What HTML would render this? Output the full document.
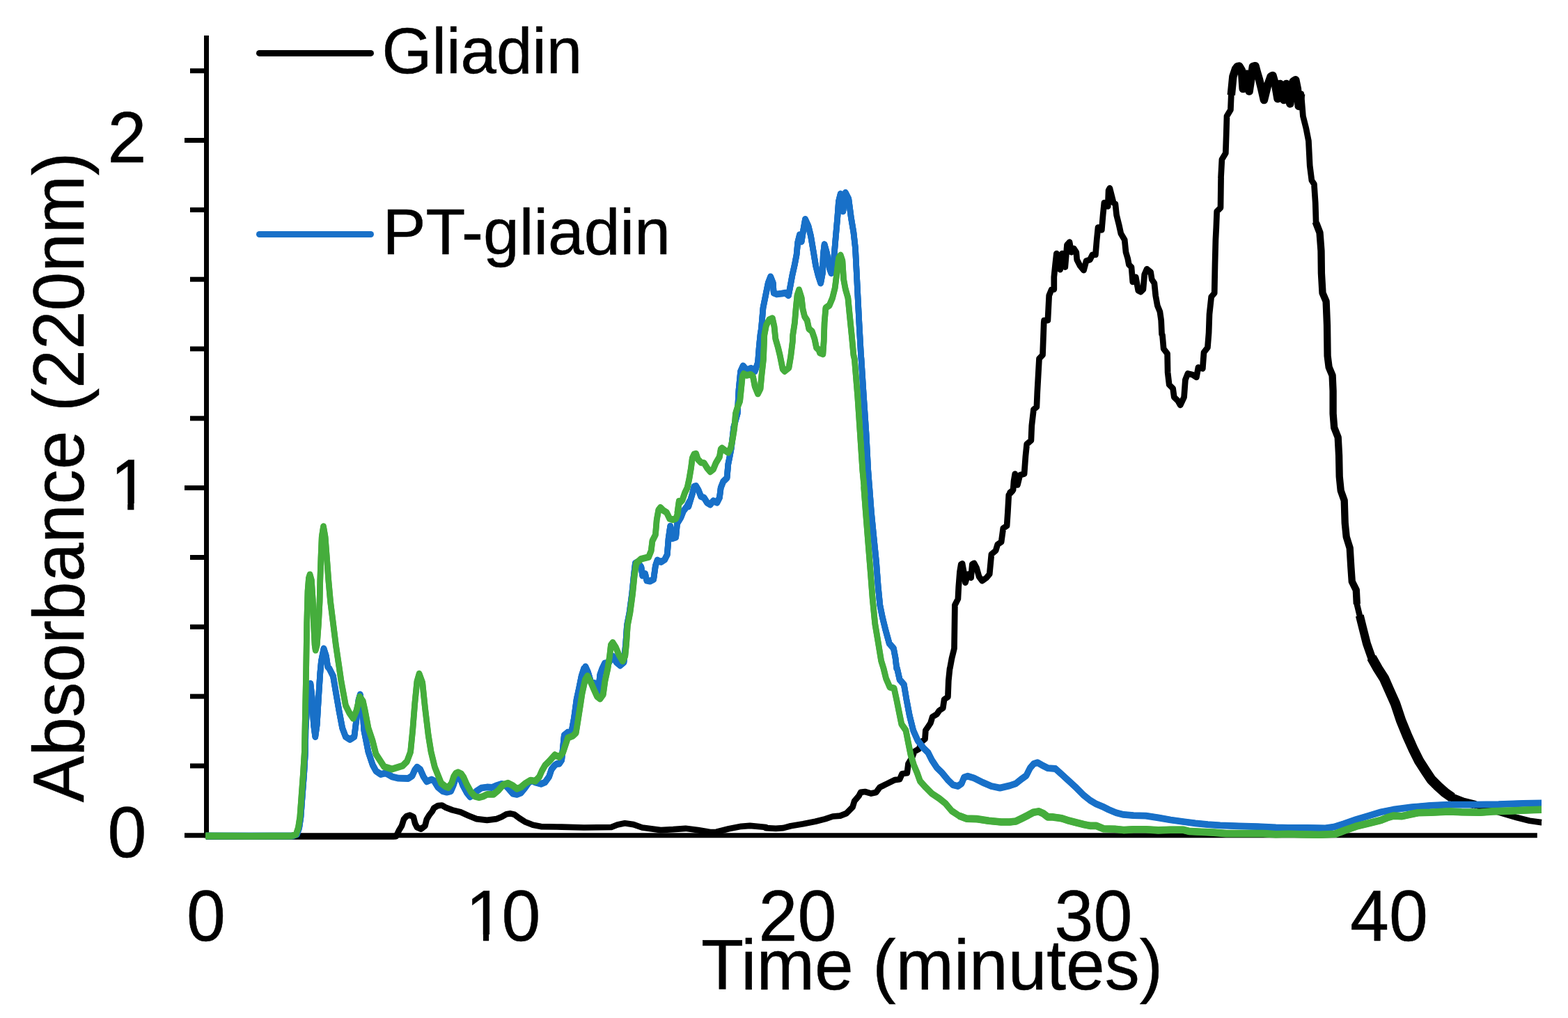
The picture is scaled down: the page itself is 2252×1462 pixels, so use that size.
<!DOCTYPE html>
<html><head><meta charset="utf-8"><title>Chromatogram</title>
<style>
html,body{margin:0;padding:0;background:#fff;}
body{width:2252px;height:1462px;overflow:hidden;}
svg{display:block;}
text{font-family:"Liberation Sans",Arial,Helvetica,sans-serif;fill:#000;stroke:#000;stroke-width:0.5px;}
</style></head><body>
<svg width="2252" height="1462" viewBox="0 0 2252 1462">
<rect width="2252" height="1462" fill="#fff"/>
<g stroke="#000" stroke-width="7" fill="none">
<line x1="296.5" y1="51" x2="296.5" y2="1203.25"/>
<line x1="265" y1="1199.75" x2="2207.8" y2="1199.75"/>
<line x1="273" y1="1099.93" x2="296.5" y2="1099.93"/>
<line x1="273" y1="1000.11" x2="296.5" y2="1000.11"/>
<line x1="273" y1="900.29" x2="296.5" y2="900.29"/>
<line x1="273" y1="800.47" x2="296.5" y2="800.47"/>
<line x1="265" y1="700.65" x2="296.5" y2="700.65"/>
<line x1="273" y1="600.83" x2="296.5" y2="600.83"/>
<line x1="273" y1="501.01" x2="296.5" y2="501.01"/>
<line x1="273" y1="401.19" x2="296.5" y2="401.19"/>
<line x1="273" y1="301.37" x2="296.5" y2="301.37"/>
<line x1="265" y1="201.55" x2="296.5" y2="201.55"/>
<line x1="273" y1="101.73" x2="296.5" y2="101.73"/>
</g>
<g fill="none" stroke-linejoin="round" stroke-linecap="butt">
<g stroke="#000" stroke-width="8.7">
<path d="M296,1201.3 L400,1201.3 L500,1201.3 L565,1201.3 L568.9,1201.2 L573.5,1191.7 L577,1186 L579.9,1176.7 L583.9,1172.1 L588.6,1170.6 L593.8,1173.2 L596.1,1182.5 L599,1188.3 L604.7,1190.6 L610.5,1186 L612.8,1176.7 L616.3,1170.9 L620.9,1165.1 L623.2,1160.5 L629,1157.1 L634.8,1156.5 L640.6,1159.9 L649.8,1163.4 L661.4,1166.3 L672.9,1171.5 L684.5,1176.1 L699.5,1177.9 L713.4,1176.1 L720.3,1173.2 L727.3,1169.2 L733.1,1168.4 L738.8,1169.8 L745.8,1175 L753.9,1180.2 L765.4,1184.8 L777,1187.1 L800,1187.5 L806.7,1187.7 L838.7,1188.5 L877.9,1188 L886.7,1184.5 L897.4,1182.3 L909.9,1184.1 L922.3,1188.5 L949,1192.1 L966.8,1191.2 L984.6,1189.8 L1002.4,1192.1 L1020.1,1195.1 L1029,1194.8 L1046.8,1190.3 L1064.6,1186.8 L1077.1,1185.9 L1100,1188 L1100,1189.1 L1114.2,1189.8 L1124.9,1189.1 L1135.6,1186.2 L1153.4,1183.2 L1171.1,1179.7 L1185.4,1176.1 L1196,1172.5 L1206.7,1171.6 L1215.6,1168.1 L1224.5,1159.2 L1227.2,1150.3 L1233.4,1143.2 L1236.1,1137.9 L1242.3,1137 L1251.2,1139.6 L1258.3,1137.9 L1263.6,1130.7 L1270.7,1127.2 L1277.9,1123.6 L1285,1120.1 L1292.1,1119.2 L1295.6,1111.2 L1302.8,1110.3 L1304.5,1096.9 L1309.9,1088.1 L1313.4,1079.2 L1319.7,1075.6 L1324.1,1064.9 L1328.5,1061.4 L1329.4,1048.9 L1333,1043.6 L1336.5,1038.3 L1339.2,1029.4 L1345.4,1025.8 L1349,1020.5 L1354.3,1016.9 L1356.1,1004.5 L1361.4,1000.9 L1362.3,977.8 L1364.1,960 L1364.3,960 L1367,945.4 L1370.5,931.2 L1370.9,904.5 L1371.4,869 L1375.9,860.1 L1376.8,842.3 L1378.5,820.9 L1380.3,810.3 L1382.1,809.4 L1384.8,824.5 L1386.5,836.9 L1390.1,824.5 L1394.6,829.8 L1396.3,810.3 L1399,808.8 L1402.6,815.6 L1406.1,828.1 L1410.6,834.3 L1416.8,829.8 L1421.2,824.5 L1423.9,796 L1430.1,790.7 L1432.8,781.8 L1438.1,778.3 L1440.8,758.7 L1446.1,755.1 L1447.4,735.6 L1448.8,710.7 L1454.1,705.3 L1450.7,707.2 L1455.1,703.7 L1456,691.2 L1457.8,680.5 L1461.4,696.5 L1464.9,682.3 L1471.1,680.5 L1472.9,655.6 L1474.7,637.9 L1480.9,632.5 L1481.8,611.2 L1484.5,588.1 L1488.9,584.5 L1489.8,563.2 L1491.1,540 L1492.5,515.1 L1497.5,509.8 L1498.7,477.8 L1499.2,463.6 L1499.6,460.1 L1504.9,460.1 L1505.8,442.3 L1506.7,424.5 L1510.3,415.6 L1513.8,415.6 L1513.8,397.9 L1515.6,380.1 L1517.4,364.1 L1522.7,387.2 L1525.4,364.1 L1529.8,383.6 L1532.5,351.6 L1536.1,347.7 L1538.7,362.3 L1542.3,356.9 L1545.8,362.3 L1546.7,373 L1551.2,381.8 L1556.5,388.1 L1560.1,374.7 L1565.4,373 L1569,365.8 L1573.4,365.8 L1575.2,344.5 L1577,326.7 L1582.3,330.3 L1584.1,308.9 L1585.9,291.1 L1591.2,296.5 L1592.1,273.4 L1593.9,270.2 L1596.5,280.5 L1599.2,291.1 L1601.9,292.9 L1603.6,308.9 L1607.2,323.2 L1609.9,335.6 L1615.2,344.5 L1617,362.3 L1619.7,371.2 L1621.4,380.1 L1625,383.6 L1626.8,405 L1631.2,397.9 L1634.8,417.4 L1638.3,419.2 L1641.9,415.6 L1643.7,394.3 L1647.2,386.3 L1652.6,390.7 L1654.3,401.4 L1657.9,406.7 L1659.7,424.5 L1662.3,438.8 L1665.9,447.7 L1667.7,460.1 L1668.6,480 L1669.5,481.3 L1671.2,500.9 L1676.6,508 L1677.1,534.7 L1679.2,552.5 L1684.6,557.8 L1686.3,570.3 L1691.7,575.6 L1695.2,581.8 L1700.6,570.3 L1702.4,545.4 L1705.9,536.5 L1713,538.3 L1718.4,541.8 L1721,527.6 L1727.3,529.4 L1729,506.2 L1734.4,499.1 L1736.1,477.8 L1736.7,460 L1737,451.2 L1739.7,426.3 L1744.2,421 L1745,380.1 L1745.9,344.5 L1746.8,326.7 L1747.7,303.6 L1753,298.3 L1753.6,255.6 L1753.5,255.6 L1754.9,229 L1760.3,220.1 L1761.2,193.4 L1762,166.7 L1767.4,157.8 L1768.3,136.5 L1770.9,109.8 L1774.5,99.1 L1777.2,95.6 L1779.8,95 L1783.4,100.9 L1785.2,127.6 L1790.5,106.2 L1794.1,131.1 L1799.4,95.6 L1803,94.7 L1805.6,104.5 L1808.3,113.4 L1811.8,127.6 L1815.4,143.6 L1820.7,122.2 L1825.2,109.8 L1827.9,108.4 L1831.4,120.5 L1835,141.8 L1838.5,120.5 L1843.9,143.6 L1847.4,120.5 L1852.8,148.9 L1857.2,116.9 L1860.8,114.8 L1863.4,127.6 L1865.2,152.5 L1868.8,134.7 L1871.4,166.7 L1875.9,184.5 L1879.4,202.3 L1881.2,237.9 L1883.9,259.2 L1887.4,264.5 L1889.2,291.2 L1890.1,320 L1890.1,320.1 L1895.5,334.2 L1897.5,360.3 L1897.9,392.5 L1899.5,420.7 L1904.6,432.7 L1906,466.9 L1906.6,511.1 L1908.6,527.2 L1913.6,539.3 L1914.6,561.4 L1914.6,594 L1916.2,614.1 L1921.7,628.2 L1923.1,654.3 L1923.7,684.5 L1925.7,704.6 L1930.7,718.7 L1931.7,750.9 L1933.7,771 L1938.7,787.1 L1940.4,815.2 L1941.8,835.3 L1947.8,847.4 L1948.8,867.5 L1952.8,884 L1956.8,900.1 L1962.9,924.2 L1969.9,944.3 L1979,960.4 L1988,974.5 L1995.1,990.6 L2004.1,1010.7 L2012.1,1034.8 L2021.2,1057 L2030.2,1077.1 L2038.3,1093.2 L2047.3,1107.2 L2055.4,1119.3 L2065.4,1129.3 L2075.5,1138.4 L2085.5,1145.4 L2101.6,1151.5 L2117.7,1155.5 L2116.8,1155.6 L2134.6,1161 L2161.2,1169 L2179,1174.3 L2196.8,1178.7 L2213.9,1181.1 L2214,1181.1"/>
<path stroke-width="11.5" d="M1768.3,136.5 L1770.9,109.8 L1774.5,99.1 L1777.2,95.6 L1779.8,95 L1783.4,100.9 L1785.2,127.6 L1790.5,106.2 L1794.1,131.1 L1799.4,95.6 L1803,94.7 L1805.6,104.5 L1808.3,113.4 L1811.8,127.6 L1815.4,143.6 L1820.7,122.2 L1825.2,109.8 L1827.9,108.4 L1831.4,120.5 L1835,141.8 L1838.5,120.5 L1843.9,143.6 L1847.4,120.5 L1852.8,148.9 L1857.2,116.9 L1860.8,114.8 L1863.4,127.6 L1865.2,152.5 L1868.8,134.7"/>
<path stroke-width="10.3" d="M1890.1,320 L1890.1,320.1 L1895.5,334.2 L1897.5,360.3 L1897.9,392.5 L1899.5,420.7 L1904.6,432.7 L1906,466.9 L1906.6,511.1 L1908.6,527.2 L1913.6,539.3 L1914.6,561.4 L1914.6,594 L1916.2,614.1 L1921.7,628.2 L1923.1,654.3 L1923.7,684.5 L1925.7,704.6 L1930.7,718.7 L1931.7,750.9 L1933.7,771 L1938.7,787.1 L1940.4,815.2 L1941.8,835.3 L1947.8,847.4 L1948.8,867.5"/>
<path stroke-width="12" d="M1952.8,884 L1956.8,900.1 L1962.9,924.2 L1969.9,944.3 L1979,960.4 L1988,974.5 L1995.1,990.6 L2004.1,1010.7 L2012.1,1034.8 L2021.2,1057 L2030.2,1077.1 L2038.3,1093.2 L2047.3,1107.2 L2055.4,1119.3 L2065.4,1129.3 L2075.5,1138.4 L2085.5,1145.4 L2101.6,1151.5 L2117.7,1155.5 L2116.8,1155.6"/>
<path stroke-width="14.5" d="M1969.9,944.3 L1979,960.4 L1988,974.5 L1995.1,990.6 L2004.1,1010.7 L2012.1,1034.8 L2021.2,1057 L2030.2,1077.1 L2038.3,1093.2 L2047.3,1107.2 L2055.4,1119.3 L2065.4,1129.3 L2075.5,1138.4 L2085.5,1145.4"/>
</g>
<g stroke="#1870c8" stroke-width="8.6">
<path id="cb" d="M296,1200.5 L360,1200.5 L420,1200.5 L426.6,1198.1 L429.7,1188.8 L432,1173.3 L434.3,1142.2 L436.7,1111.1 L438.5,1080 L438.9,1048.8 L440.7,1017.7 L442.7,994.4 L445.9,981.7 L448.2,1002.2 L450.5,1041 L452.8,1058.1 L455.2,1041 L457.5,1002.2 L459.8,966.9 L461.4,949.8 L465,931.5 L468.4,942.1 L470.7,957.6 L473,960.2 L478.5,971.1 L482.4,994.4 L487,1020.8 L491.7,1045.7 L496.4,1058.1 L502.6,1062 L508.8,1058.1 L511.9,1033.3 L515,1005.3 L517.3,997.5 L520.5,1017.7 L522.8,1048.8 L529,1079.9 L535.2,1098.5 L540,1107.3 L546.9,1112 L553.9,1110.2 L563.1,1115.4 L572.4,1117.7 L586.2,1118 L592,1114.3 L595.5,1106.2 L599,1101.6 L603.6,1105 L608.2,1115.4 L612.8,1122.4 L619.8,1119.5 L623.2,1121.2 L629,1130.5 L636,1136.2 L641.7,1137.6 L647.5,1136.2 L651,1128.2 L654.5,1117.7 L657.9,1113.1 L661.4,1118.9 L664.9,1128.2 L670.6,1138.6 L675.3,1144.3 L679.9,1140.9 L684.5,1136.2 L691.4,1131.6 L699.5,1130.5 L706.5,1131 L713.4,1128.2 L720.3,1125.8 L725,1127 L729.6,1131.6 L736.5,1139.7 L742.3,1140.9 L748.1,1138.6 L753.9,1131.6 L759.7,1123.5 L764.3,1121.2 L768.9,1123.5 L777,1125.8 L782.8,1123.5 L788.6,1115.4 L792,1105 L796.6,1099.2 L800,1096.9 L803.2,1096.9 L806.7,1091.6 L808.5,1073.8 L810.3,1056 L815.6,1051.6 L820.9,1050.7 L824.5,1031.1 L828.1,1004.5 L831.6,988.5 L835.2,970.7 L838.7,960 L838.2,965.4 L840.9,957.4 L844.5,965.4 L848.9,980 L854.7,981.3 L859.2,993.8 L861.8,968.9 L864.9,960.1 L868.5,952.6 L874.7,951.2 L880,942.3 L885.4,951.2 L890.7,955.7 L896,951.2 L898.7,924.5 L900.5,897.9 L904,880.1 L907.6,853.4 L910.3,826.7 L912.4,808.9 L915.6,807.1 L920.9,814.3 L922.7,826.7 L926.6,824 L928.9,833.8 L933.4,834.7 L938.7,832 L941.4,812.5 L944.1,804.5 L949.4,807.1 L954.7,803.6 L958.3,796.5 L960.1,773.4 L962.7,755.6 L965.4,773.4 L970.7,771.6 L972.5,752 L977.9,743.1 L981.4,734.2 L986.7,727.1 L990.3,720 L988.9,727.2 L994.3,709.4 L996.9,698.8 L999.6,697.9 L1003.2,704.1 L1006.7,713 L1011.2,714.8 L1015.6,721.9 L1020.1,724.6 L1024.5,719.2 L1029.8,721.9 L1033.4,714.8 L1035.2,700.5 L1038.7,691.6 L1044.1,686.3 L1045.8,666.7 L1047.6,657.9 L1050.3,643.6 L1053.8,613.4 L1059.2,593.8 L1061,560 L1063.6,533.4 L1067.2,525.4 L1072.5,531.6 L1078.7,528.9 L1084.1,533.4 L1088.5,520.9 L1090.3,497.8 L1092.1,480 L1093.4,472.3 L1096,442.1 L1099.6,424.3 L1103.2,406.5 L1106.7,397.3 L1110.3,406.5 L1111.2,420.7 L1115.6,422.5 L1122.7,421.6 L1128.1,420.7 L1132.5,424.3 L1135.2,410.1 L1137.8,395.8 L1141.4,379.8 L1144.1,365.6 L1145.8,347.8 L1148.5,337.1 L1151.2,346.9 L1153.8,330 L1156.5,314.9 L1161,324.7 L1164.5,338.9 L1168.1,360.3 L1171.6,381.6 L1175.2,395.8 L1178.7,406.5 L1181.4,392.3 L1182.3,365.6 L1184.1,351 L1187.6,363.8 L1191.2,385.2 L1193.9,392.3 L1197.4,374.5 L1200.1,342.5 L1202.8,312.2 L1204.5,289.1 L1207.2,278.5 L1210.8,303.4 L1214.3,276.7 L1218.8,285.6 L1222.3,312.2 L1225.9,333.6 L1228.5,356.7 L1230.3,392.3 L1232.1,427.9 L1233.9,463.4 L1236.5,510 L1237,515.6 L1240.4,568.9 L1244,622.3 L1246.8,675.6 L1249.5,711.2 L1248.7,700 L1251.4,735.6 L1254.9,771.1 L1258.5,806.7 L1261.2,842.3 L1263.8,869 L1267.4,886.7 L1271.8,904.5 L1277.2,924.1 L1283.4,931.2 L1286.1,945.4 L1287.8,960 L1288.5,960 L1292.1,976 L1298.3,983.1 L1301.9,1004.5 L1306.3,1027.6 L1311.6,1048.9 L1317.9,1063.2 L1325.9,1073.8 L1333,1080.9 L1338.3,1091.6 L1345.4,1102.3 L1352.6,1109.4 L1361.4,1120.1 L1368.6,1127.2 L1375.7,1129 L1381,1125.4 L1384.6,1116.5 L1389.9,1114.7 L1398.8,1117.4 L1411.2,1123.6 L1423.7,1129 L1436.1,1131.6 L1450,1128.4 L1458.9,1125.4 L1467.8,1118.3 L1474,1113.8 L1479.3,1103.2 L1484.7,1096.9 L1490,1095.2 L1496.2,1098.7 L1505.1,1103.2 L1515.8,1104 L1524.7,1112 L1535.4,1121.8 L1546,1131.6 L1556.7,1142.3 L1565.6,1149.4 L1574.5,1154.7 L1583.4,1158.3 L1592.3,1162.7 L1603,1167.2 L1613.6,1169.9 L1627.9,1171.1 L1645.6,1171.6 L1663.4,1174.3 L1681.2,1177.5 L1699,1180 L1716.8,1182.3 L1734.6,1184.1 L1752.4,1185.3 L1779,1186.4 L1805.7,1187.1 L1832.4,1188.5 L1850,1188.9 L1876.7,1188.9 L1903.4,1189.4 L1915.8,1187.6 L1930,1183.2 L1947.8,1177 L1965.6,1171.6 L1983.4,1166.3 L2001.2,1162.7 L2027.9,1159.2 L2054.5,1156.9 L2081.2,1155.6 L2116.8,1155.6 L2152.4,1155.1 L2187.9,1153.8 L2213.9,1153.5 L2214,1153.5"/>
<path transform="translate(0,-0.6)" d="M296,1200.5 L360,1200.5 L420,1200.5 L426.6,1198.1 L429.7,1188.8 L432,1173.3 L434.3,1142.2 L436.7,1111.1 L438.5,1080 L438.9,1048.8 L440.7,1017.7 L442.7,994.4 L445.9,981.7 L448.2,1002.2 L450.5,1041 L452.8,1058.1 L455.2,1041 L457.5,1002.2 L459.8,966.9 L461.4,949.8 L465,931.5 L468.4,942.1 L470.7,957.6 L473,960.2 L478.5,971.1 L482.4,994.4 L487,1020.8 L491.7,1045.7 L496.4,1058.1 L502.6,1062 L508.8,1058.1 L511.9,1033.3 L515,1005.3 L517.3,997.5 L520.5,1017.7 L522.8,1048.8 L529,1079.9 L535.2,1098.5 L540,1107.3 L546.9,1112 L553.9,1110.2 L563.1,1115.4 L572.4,1117.7 L586.2,1118 L592,1114.3 L595.5,1106.2 L599,1101.6 L603.6,1105 L608.2,1115.4 L612.8,1122.4 L619.8,1119.5 L623.2,1121.2 L629,1130.5 L636,1136.2 L641.7,1137.6 L647.5,1136.2 L651,1128.2 L654.5,1117.7 L657.9,1113.1 L661.4,1118.9 L664.9,1128.2 L670.6,1138.6 L675.3,1144.3 L679.9,1140.9 L684.5,1136.2 L691.4,1131.6 L699.5,1130.5 L706.5,1131 L713.4,1128.2 L720.3,1125.8 L725,1127 L729.6,1131.6 L736.5,1139.7 L742.3,1140.9 L748.1,1138.6 L753.9,1131.6 L759.7,1123.5 L764.3,1121.2 L768.9,1123.5 L777,1125.8 L782.8,1123.5 L788.6,1115.4 L792,1105 L796.6,1099.2 L800,1096.9 L803.2,1096.9 L806.7,1091.6 L808.5,1073.8 L810.3,1056 L815.6,1051.6 L820.9,1050.7 L824.5,1031.1 L828.1,1004.5 L831.6,988.5 L835.2,970.7 L838.7,960 L838.2,965.4 L840.9,957.4 L844.5,965.4 L848.9,980 L854.7,981.3 L859.2,993.8 L861.8,968.9 L864.9,960.1 L868.5,952.6 L874.7,951.2 L880,942.3 L885.4,951.2 L890.7,955.7 L896,951.2 L898.7,924.5 L900.5,897.9 L904,880.1 L907.6,853.4 L910.3,826.7 L912.4,808.9 L915.6,807.1 L920.9,814.3 L922.7,826.7 L926.6,824 L928.9,833.8 L933.4,834.7 L938.7,832 L941.4,812.5 L944.1,804.5 L949.4,807.1 L954.7,803.6 L958.3,796.5 L960.1,773.4 L962.7,755.6 L965.4,773.4 L970.7,771.6 L972.5,752 L977.9,743.1 L981.4,734.2 L986.7,727.1 L990.3,720 L988.9,727.2 L994.3,709.4 L996.9,698.8 L999.6,697.9 L1003.2,704.1 L1006.7,713 L1011.2,714.8 L1015.6,721.9 L1020.1,724.6 L1024.5,719.2 L1029.8,721.9 L1033.4,714.8 L1035.2,700.5 L1038.7,691.6 L1044.1,686.3 L1045.8,666.7 L1047.6,657.9 L1050.3,643.6 L1053.8,613.4 L1059.2,593.8 L1061,560 L1063.6,533.4 L1067.2,525.4 L1072.5,531.6 L1078.7,528.9 L1084.1,533.4 L1088.5,520.9 L1090.3,497.8 L1092.1,480 L1093.4,472.3 L1096,442.1 L1099.6,424.3 L1103.2,406.5 L1106.7,397.3 L1110.3,406.5 L1111.2,420.7 L1115.6,422.5 L1122.7,421.6 L1128.1,420.7 L1132.5,424.3 L1135.2,410.1 L1137.8,395.8 L1141.4,379.8 L1144.1,365.6 L1145.8,347.8 L1148.5,337.1 L1151.2,346.9 L1153.8,330 L1156.5,314.9 L1161,324.7 L1164.5,338.9 L1168.1,360.3 L1171.6,381.6 L1175.2,395.8 L1178.7,406.5 L1181.4,392.3 L1182.3,365.6 L1184.1,351 L1187.6,363.8 L1191.2,385.2 L1193.9,392.3 L1197.4,374.5 L1200.1,342.5 L1202.8,312.2 L1204.5,289.1 L1207.2,278.5 L1210.8,303.4 L1214.3,276.7 L1218.8,285.6 L1222.3,312.2 L1225.9,333.6 L1228.5,356.7 L1230.3,392.3 L1232.1,427.9 L1233.9,463.4 L1236.5,510 L1237,515.6 L1240.4,568.9 L1244,622.3 L1246.8,675.6 L1249.5,711.2 L1248.7,700 L1251.4,735.6 L1254.9,771.1 L1258.5,806.7 L1261.2,842.3 L1263.8,869 L1267.4,886.7 L1271.8,904.5 L1277.2,924.1 L1283.4,931.2 L1286.1,945.4 L1287.8,960 L1288.5,960 L1292.1,976 L1298.3,983.1 L1301.9,1004.5 L1306.3,1027.6 L1311.6,1048.9 L1317.9,1063.2 L1325.9,1073.8 L1333,1080.9 L1338.3,1091.6 L1345.4,1102.3 L1352.6,1109.4 L1361.4,1120.1 L1368.6,1127.2 L1375.7,1129 L1381,1125.4 L1384.6,1116.5 L1389.9,1114.7 L1398.8,1117.4 L1411.2,1123.6 L1423.7,1129 L1436.1,1131.6 L1450,1128.4 L1458.9,1125.4 L1467.8,1118.3 L1474,1113.8 L1479.3,1103.2 L1484.7,1096.9 L1490,1095.2 L1496.2,1098.7 L1505.1,1103.2 L1515.8,1104 L1524.7,1112 L1535.4,1121.8 L1546,1131.6 L1556.7,1142.3 L1565.6,1149.4 L1574.5,1154.7 L1583.4,1158.3 L1592.3,1162.7 L1603,1167.2 L1613.6,1169.9 L1627.9,1171.1 L1645.6,1171.6 L1663.4,1174.3 L1681.2,1177.5 L1699,1180 L1716.8,1182.3 L1734.6,1184.1 L1752.4,1185.3 L1779,1186.4 L1805.7,1187.1 L1832.4,1188.5 L1850,1188.9 L1876.7,1188.9 L1903.4,1189.4 L1915.8,1187.6 L1930,1183.2 L1947.8,1177 L1965.6,1171.6 L1983.4,1166.3 L2001.2,1162.7 L2027.9,1159.2 L2054.5,1156.9 L2081.2,1155.6 L2116.8,1155.6 L2152.4,1155.1 L2187.9,1153.8 L2213.9,1153.5 L2214,1153.5"/>
<path transform="translate(0,0.6)" d="M296,1200.5 L360,1200.5 L420,1200.5 L426.6,1198.1 L429.7,1188.8 L432,1173.3 L434.3,1142.2 L436.7,1111.1 L438.5,1080 L438.9,1048.8 L440.7,1017.7 L442.7,994.4 L445.9,981.7 L448.2,1002.2 L450.5,1041 L452.8,1058.1 L455.2,1041 L457.5,1002.2 L459.8,966.9 L461.4,949.8 L465,931.5 L468.4,942.1 L470.7,957.6 L473,960.2 L478.5,971.1 L482.4,994.4 L487,1020.8 L491.7,1045.7 L496.4,1058.1 L502.6,1062 L508.8,1058.1 L511.9,1033.3 L515,1005.3 L517.3,997.5 L520.5,1017.7 L522.8,1048.8 L529,1079.9 L535.2,1098.5 L540,1107.3 L546.9,1112 L553.9,1110.2 L563.1,1115.4 L572.4,1117.7 L586.2,1118 L592,1114.3 L595.5,1106.2 L599,1101.6 L603.6,1105 L608.2,1115.4 L612.8,1122.4 L619.8,1119.5 L623.2,1121.2 L629,1130.5 L636,1136.2 L641.7,1137.6 L647.5,1136.2 L651,1128.2 L654.5,1117.7 L657.9,1113.1 L661.4,1118.9 L664.9,1128.2 L670.6,1138.6 L675.3,1144.3 L679.9,1140.9 L684.5,1136.2 L691.4,1131.6 L699.5,1130.5 L706.5,1131 L713.4,1128.2 L720.3,1125.8 L725,1127 L729.6,1131.6 L736.5,1139.7 L742.3,1140.9 L748.1,1138.6 L753.9,1131.6 L759.7,1123.5 L764.3,1121.2 L768.9,1123.5 L777,1125.8 L782.8,1123.5 L788.6,1115.4 L792,1105 L796.6,1099.2 L800,1096.9 L803.2,1096.9 L806.7,1091.6 L808.5,1073.8 L810.3,1056 L815.6,1051.6 L820.9,1050.7 L824.5,1031.1 L828.1,1004.5 L831.6,988.5 L835.2,970.7 L838.7,960 L838.2,965.4 L840.9,957.4 L844.5,965.4 L848.9,980 L854.7,981.3 L859.2,993.8 L861.8,968.9 L864.9,960.1 L868.5,952.6 L874.7,951.2 L880,942.3 L885.4,951.2 L890.7,955.7 L896,951.2 L898.7,924.5 L900.5,897.9 L904,880.1 L907.6,853.4 L910.3,826.7 L912.4,808.9 L915.6,807.1 L920.9,814.3 L922.7,826.7 L926.6,824 L928.9,833.8 L933.4,834.7 L938.7,832 L941.4,812.5 L944.1,804.5 L949.4,807.1 L954.7,803.6 L958.3,796.5 L960.1,773.4 L962.7,755.6 L965.4,773.4 L970.7,771.6 L972.5,752 L977.9,743.1 L981.4,734.2 L986.7,727.1 L990.3,720 L988.9,727.2 L994.3,709.4 L996.9,698.8 L999.6,697.9 L1003.2,704.1 L1006.7,713 L1011.2,714.8 L1015.6,721.9 L1020.1,724.6 L1024.5,719.2 L1029.8,721.9 L1033.4,714.8 L1035.2,700.5 L1038.7,691.6 L1044.1,686.3 L1045.8,666.7 L1047.6,657.9 L1050.3,643.6 L1053.8,613.4 L1059.2,593.8 L1061,560 L1063.6,533.4 L1067.2,525.4 L1072.5,531.6 L1078.7,528.9 L1084.1,533.4 L1088.5,520.9 L1090.3,497.8 L1092.1,480 L1093.4,472.3 L1096,442.1 L1099.6,424.3 L1103.2,406.5 L1106.7,397.3 L1110.3,406.5 L1111.2,420.7 L1115.6,422.5 L1122.7,421.6 L1128.1,420.7 L1132.5,424.3 L1135.2,410.1 L1137.8,395.8 L1141.4,379.8 L1144.1,365.6 L1145.8,347.8 L1148.5,337.1 L1151.2,346.9 L1153.8,330 L1156.5,314.9 L1161,324.7 L1164.5,338.9 L1168.1,360.3 L1171.6,381.6 L1175.2,395.8 L1178.7,406.5 L1181.4,392.3 L1182.3,365.6 L1184.1,351 L1187.6,363.8 L1191.2,385.2 L1193.9,392.3 L1197.4,374.5 L1200.1,342.5 L1202.8,312.2 L1204.5,289.1 L1207.2,278.5 L1210.8,303.4 L1214.3,276.7 L1218.8,285.6 L1222.3,312.2 L1225.9,333.6 L1228.5,356.7 L1230.3,392.3 L1232.1,427.9 L1233.9,463.4 L1236.5,510 L1237,515.6 L1240.4,568.9 L1244,622.3 L1246.8,675.6 L1249.5,711.2 L1248.7,700 L1251.4,735.6 L1254.9,771.1 L1258.5,806.7 L1261.2,842.3 L1263.8,869 L1267.4,886.7 L1271.8,904.5 L1277.2,924.1 L1283.4,931.2 L1286.1,945.4 L1287.8,960 L1288.5,960 L1292.1,976 L1298.3,983.1 L1301.9,1004.5 L1306.3,1027.6 L1311.6,1048.9 L1317.9,1063.2 L1325.9,1073.8 L1333,1080.9 L1338.3,1091.6 L1345.4,1102.3 L1352.6,1109.4 L1361.4,1120.1 L1368.6,1127.2 L1375.7,1129 L1381,1125.4 L1384.6,1116.5 L1389.9,1114.7 L1398.8,1117.4 L1411.2,1123.6 L1423.7,1129 L1436.1,1131.6 L1450,1128.4 L1458.9,1125.4 L1467.8,1118.3 L1474,1113.8 L1479.3,1103.2 L1484.7,1096.9 L1490,1095.2 L1496.2,1098.7 L1505.1,1103.2 L1515.8,1104 L1524.7,1112 L1535.4,1121.8 L1546,1131.6 L1556.7,1142.3 L1565.6,1149.4 L1574.5,1154.7 L1583.4,1158.3 L1592.3,1162.7 L1603,1167.2 L1613.6,1169.9 L1627.9,1171.1 L1645.6,1171.6 L1663.4,1174.3 L1681.2,1177.5 L1699,1180 L1716.8,1182.3 L1734.6,1184.1 L1752.4,1185.3 L1779,1186.4 L1805.7,1187.1 L1832.4,1188.5 L1850,1188.9 L1876.7,1188.9 L1903.4,1189.4 L1915.8,1187.6 L1930,1183.2 L1947.8,1177 L1965.6,1171.6 L1983.4,1166.3 L2001.2,1162.7 L2027.9,1159.2 L2054.5,1156.9 L2081.2,1155.6 L2116.8,1155.6 L2152.4,1155.1 L2187.9,1153.8 L2213.9,1153.5 L2214,1153.5"/>
</g>
<g stroke="#45ad3c" stroke-width="8.6">
<path transform="translate(0,-0.6)" d="M295,1200.5 L360,1200.8 L419,1200.5 L425.3,1198.1 L428.4,1188.8 L430.8,1173.3 L433.1,1142.2 L435.4,1111.1 L437.3,1080 L439.6,966.9 L440.7,895.4 L442,848.8 L443.5,830.1 L445.1,825.3 L447.4,833.3 L449.4,864.3 L450.5,895.4 L452.1,926.5 L453.2,933.7 L455.2,926.5 L457.5,895.4 L459.1,864.3 L459.8,833.3 L460.9,802.2 L462.2,771.1 L464.5,756.2 L467.1,771.1 L469.5,802.2 L471.8,833.3 L474.6,864.3 L478.5,895.4 L482.4,926.5 L487,957.6 L490.1,978.9 L496.4,1013 L501.8,1023.9 L507.2,1031.7 L511.9,1020.8 L516.6,1000.6 L521.2,1006.8 L524.3,1020.8 L529,1045.7 L535.2,1064.3 L539.9,1083 L551.6,1101 L563.1,1104.5 L578.2,1099.8 L584.5,1093.5 L589.6,1079.9 L592.7,1048.8 L595.8,1009.9 L598.9,978.9 L602.1,967.7 L606.7,980.4 L610.6,1017.7 L615.3,1056.6 L619.1,1079.9 L624.4,1101.6 L629,1113.1 L633.6,1124.7 L639.4,1129.3 L644,1131 L648.7,1124.7 L651.6,1115.4 L654.5,1110.8 L657.9,1109.1 L662.5,1111.4 L666,1116.6 L670.6,1127 L676.4,1137.4 L682.2,1143.8 L688,1145.3 L693.8,1143.8 L699.5,1140.9 L708.8,1140.9 L715.7,1135.1 L722.7,1127 L729.6,1124.7 L736.5,1128.2 L742.3,1132.8 L748.1,1130.5 L755,1124.7 L762,1120.6 L768.9,1121.8 L774.7,1115.4 L778.2,1107.3 L782.8,1099.2 L788.6,1093.5 L796.9,1084.1 L803.2,1087.2 L808.5,1080.9 L812,1070.3 L815.6,1059.6 L822.7,1056.9 L827.2,1052.5 L829.8,1036.5 L833.4,1013.4 L836.1,995.6 L840.5,976 L843.7,970.7 L847.6,977.8 L853,990.2 L857.4,1000 L861.8,1003.6 L866.3,997.3 L869,977.8 L872.9,960.1 L875.6,942.3 L877.4,926.3 L880,922.8 L884.5,929.9 L888.9,940.5 L894.3,949.4 L897.8,942.3 L899.6,924.5 L901.4,897.9 L904.9,880.1 L908.5,853.4 L911.2,826.7 L913.8,808.9 L920.9,802.7 L931.6,800 L935.2,791.1 L936.9,776.9 L941.4,768 L943.2,746.7 L945.8,732.4 L948.5,728.9 L953,733.3 L957.4,736 L961.8,744.9 L966.3,746.3 L970.7,744.9 L973.4,737.8 L975.2,720 L972.9,736.1 L974.7,723.7 L980,718.3 L983.6,707.7 L987.1,700.5 L989.8,688.1 L992.5,672.1 L994.3,657.9 L996.9,652.5 L999.6,651.6 L1002.3,659.6 L1006.7,664.1 L1011.2,665 L1015.6,672.1 L1020.1,677.4 L1024.5,673.9 L1028.1,665 L1033.4,656.1 L1035.2,645.4 L1036.9,643.6 L1040.5,646.3 L1045.8,649.9 L1049.4,643.6 L1052.1,631.2 L1054.7,615.2 L1056.5,593.8 L1059.2,584.9 L1062.7,576 L1064.5,558.3 L1066.3,540.5 L1068.1,536.9 L1072.5,539 L1077.9,537.8 L1081.4,540.5 L1084.1,554.7 L1088.5,565.4 L1092.1,558.3 L1093.9,538.7 L1096.5,515.6 L1097.8,481.2 L1100.5,467 L1104.9,459 L1109.4,457.2 L1112,468.8 L1113.8,486.5 L1117.4,499 L1120.1,510 L1124.1,529.8 L1126.8,533 L1133,528 L1135.7,512 L1138.3,490.7 L1138.7,481.2 L1141.4,463.4 L1143.2,442.1 L1145,424.3 L1147.6,416.3 L1151.2,427.9 L1153,443.9 L1155.6,454.5 L1159.2,459.9 L1161.8,472.3 L1166.3,475.9 L1169.9,486.5 L1172.5,499 L1176.1,502.6 L1177.5,506.7 L1181.9,508.5 L1183.2,490.1 L1184.1,463.4 L1185.9,442.1 L1191.2,438.5 L1195.6,427.9 L1199.2,413.6 L1201.9,392.3 L1204.5,370.9 L1207.2,366.5 L1209.9,374.5 L1211.6,401.2 L1214.3,415.4 L1217.9,427.9 L1220.5,454.5 L1223.2,481.2 L1225.9,510 L1227.3,515.6 L1231.7,568.9 L1235.3,622.3 L1238.8,675.6 L1242.2,711.2 L1240.7,700 L1243.4,735.6 L1246.9,780 L1250.5,824.5 L1253.2,860.1 L1256.7,895.6 L1261.2,922.3 L1265.6,949 L1269,960 L1272.5,974.2 L1277.9,986.7 L1284.1,988.5 L1287.6,1004.5 L1291.2,1022.2 L1294.8,1040 L1301,1048.9 L1304.5,1066.7 L1308.1,1084.5 L1312.5,1098.7 L1317,1109.4 L1321.4,1121.8 L1329.4,1130.7 L1338.3,1139.6 L1349,1146.7 L1357.9,1153.9 L1366.8,1164.5 L1377.5,1171.6 L1388.1,1175.6 L1402.4,1176.1 L1420.1,1178.8 L1437.9,1180.5 L1450,1180.5 L1458.9,1179.6 L1467.8,1175.2 L1476.7,1170.7 L1483.8,1166.8 L1491.8,1165.4 L1498,1168.1 L1505.1,1173.4 L1512.2,1173.4 L1524.7,1175.2 L1535.4,1178.7 L1546,1181.4 L1556.7,1184.1 L1565.6,1185.9 L1574.5,1185.9 L1585.2,1190.3 L1601.2,1190.7 L1613.6,1192.1 L1627.9,1191.2 L1645.6,1191.2 L1663.4,1192.4 L1681.2,1191.7 L1699,1191.7 L1707.9,1193.9 L1725.7,1194.8 L1743.5,1195.6 L1761.2,1197.1 L1787.9,1197.1 L1814.6,1197.1 L1832.4,1198.3 L1850,1197.8 L1867.8,1198.3 L1894.5,1198.8 L1917.6,1197.8 L1930,1193 L1947.8,1186.7 L1965.6,1182.3 L1983.4,1177.9 L1992.3,1174.3 L2001.2,1171.6 L2013.6,1172.2 L2027.9,1169 L2036.7,1167.2 L2054.5,1166.8 L2081.2,1165.4 L2099,1166.3 L2125.7,1166.8 L2143.5,1165.4 L2170.1,1164.5 L2196.8,1163.3 L2213.9,1162.7 L2214,1162.7"/>
<path transform="translate(0,0.6)" d="M295,1200.5 L360,1200.8 L419,1200.5 L425.3,1198.1 L428.4,1188.8 L430.8,1173.3 L433.1,1142.2 L435.4,1111.1 L437.3,1080 L439.6,966.9 L440.7,895.4 L442,848.8 L443.5,830.1 L445.1,825.3 L447.4,833.3 L449.4,864.3 L450.5,895.4 L452.1,926.5 L453.2,933.7 L455.2,926.5 L457.5,895.4 L459.1,864.3 L459.8,833.3 L460.9,802.2 L462.2,771.1 L464.5,756.2 L467.1,771.1 L469.5,802.2 L471.8,833.3 L474.6,864.3 L478.5,895.4 L482.4,926.5 L487,957.6 L490.1,978.9 L496.4,1013 L501.8,1023.9 L507.2,1031.7 L511.9,1020.8 L516.6,1000.6 L521.2,1006.8 L524.3,1020.8 L529,1045.7 L535.2,1064.3 L539.9,1083 L551.6,1101 L563.1,1104.5 L578.2,1099.8 L584.5,1093.5 L589.6,1079.9 L592.7,1048.8 L595.8,1009.9 L598.9,978.9 L602.1,967.7 L606.7,980.4 L610.6,1017.7 L615.3,1056.6 L619.1,1079.9 L624.4,1101.6 L629,1113.1 L633.6,1124.7 L639.4,1129.3 L644,1131 L648.7,1124.7 L651.6,1115.4 L654.5,1110.8 L657.9,1109.1 L662.5,1111.4 L666,1116.6 L670.6,1127 L676.4,1137.4 L682.2,1143.8 L688,1145.3 L693.8,1143.8 L699.5,1140.9 L708.8,1140.9 L715.7,1135.1 L722.7,1127 L729.6,1124.7 L736.5,1128.2 L742.3,1132.8 L748.1,1130.5 L755,1124.7 L762,1120.6 L768.9,1121.8 L774.7,1115.4 L778.2,1107.3 L782.8,1099.2 L788.6,1093.5 L796.9,1084.1 L803.2,1087.2 L808.5,1080.9 L812,1070.3 L815.6,1059.6 L822.7,1056.9 L827.2,1052.5 L829.8,1036.5 L833.4,1013.4 L836.1,995.6 L840.5,976 L843.7,970.7 L847.6,977.8 L853,990.2 L857.4,1000 L861.8,1003.6 L866.3,997.3 L869,977.8 L872.9,960.1 L875.6,942.3 L877.4,926.3 L880,922.8 L884.5,929.9 L888.9,940.5 L894.3,949.4 L897.8,942.3 L899.6,924.5 L901.4,897.9 L904.9,880.1 L908.5,853.4 L911.2,826.7 L913.8,808.9 L920.9,802.7 L931.6,800 L935.2,791.1 L936.9,776.9 L941.4,768 L943.2,746.7 L945.8,732.4 L948.5,728.9 L953,733.3 L957.4,736 L961.8,744.9 L966.3,746.3 L970.7,744.9 L973.4,737.8 L975.2,720 L972.9,736.1 L974.7,723.7 L980,718.3 L983.6,707.7 L987.1,700.5 L989.8,688.1 L992.5,672.1 L994.3,657.9 L996.9,652.5 L999.6,651.6 L1002.3,659.6 L1006.7,664.1 L1011.2,665 L1015.6,672.1 L1020.1,677.4 L1024.5,673.9 L1028.1,665 L1033.4,656.1 L1035.2,645.4 L1036.9,643.6 L1040.5,646.3 L1045.8,649.9 L1049.4,643.6 L1052.1,631.2 L1054.7,615.2 L1056.5,593.8 L1059.2,584.9 L1062.7,576 L1064.5,558.3 L1066.3,540.5 L1068.1,536.9 L1072.5,539 L1077.9,537.8 L1081.4,540.5 L1084.1,554.7 L1088.5,565.4 L1092.1,558.3 L1093.9,538.7 L1096.5,515.6 L1097.8,481.2 L1100.5,467 L1104.9,459 L1109.4,457.2 L1112,468.8 L1113.8,486.5 L1117.4,499 L1120.1,510 L1124.1,529.8 L1126.8,533 L1133,528 L1135.7,512 L1138.3,490.7 L1138.7,481.2 L1141.4,463.4 L1143.2,442.1 L1145,424.3 L1147.6,416.3 L1151.2,427.9 L1153,443.9 L1155.6,454.5 L1159.2,459.9 L1161.8,472.3 L1166.3,475.9 L1169.9,486.5 L1172.5,499 L1176.1,502.6 L1177.5,506.7 L1181.9,508.5 L1183.2,490.1 L1184.1,463.4 L1185.9,442.1 L1191.2,438.5 L1195.6,427.9 L1199.2,413.6 L1201.9,392.3 L1204.5,370.9 L1207.2,366.5 L1209.9,374.5 L1211.6,401.2 L1214.3,415.4 L1217.9,427.9 L1220.5,454.5 L1223.2,481.2 L1225.9,510 L1227.3,515.6 L1231.7,568.9 L1235.3,622.3 L1238.8,675.6 L1242.2,711.2 L1240.7,700 L1243.4,735.6 L1246.9,780 L1250.5,824.5 L1253.2,860.1 L1256.7,895.6 L1261.2,922.3 L1265.6,949 L1269,960 L1272.5,974.2 L1277.9,986.7 L1284.1,988.5 L1287.6,1004.5 L1291.2,1022.2 L1294.8,1040 L1301,1048.9 L1304.5,1066.7 L1308.1,1084.5 L1312.5,1098.7 L1317,1109.4 L1321.4,1121.8 L1329.4,1130.7 L1338.3,1139.6 L1349,1146.7 L1357.9,1153.9 L1366.8,1164.5 L1377.5,1171.6 L1388.1,1175.6 L1402.4,1176.1 L1420.1,1178.8 L1437.9,1180.5 L1450,1180.5 L1458.9,1179.6 L1467.8,1175.2 L1476.7,1170.7 L1483.8,1166.8 L1491.8,1165.4 L1498,1168.1 L1505.1,1173.4 L1512.2,1173.4 L1524.7,1175.2 L1535.4,1178.7 L1546,1181.4 L1556.7,1184.1 L1565.6,1185.9 L1574.5,1185.9 L1585.2,1190.3 L1601.2,1190.7 L1613.6,1192.1 L1627.9,1191.2 L1645.6,1191.2 L1663.4,1192.4 L1681.2,1191.7 L1699,1191.7 L1707.9,1193.9 L1725.7,1194.8 L1743.5,1195.6 L1761.2,1197.1 L1787.9,1197.1 L1814.6,1197.1 L1832.4,1198.3 L1850,1197.8 L1867.8,1198.3 L1894.5,1198.8 L1917.6,1197.8 L1930,1193 L1947.8,1186.7 L1965.6,1182.3 L1983.4,1177.9 L1992.3,1174.3 L2001.2,1171.6 L2013.6,1172.2 L2027.9,1169 L2036.7,1167.2 L2054.5,1166.8 L2081.2,1165.4 L2099,1166.3 L2125.7,1166.8 L2143.5,1165.4 L2170.1,1164.5 L2196.8,1163.3 L2213.9,1162.7 L2214,1162.7"/>
<path stroke-width="10.6" d="M1377.5,1171.6 L1388.1,1175.6 L1402.4,1176.1 L1420.1,1178.8 L1437.9,1180.5 L1450,1180.5 L1458.9,1179.6 L1467.8,1175.2 L1476.7,1170.7 L1483.8,1166.8 L1491.8,1165.4 L1498,1168.1 L1505.1,1173.4 L1512.2,1173.4 L1524.7,1175.2 L1535.4,1178.7 L1546,1181.4 L1556.7,1184.1 L1565.6,1185.9 L1574.5,1185.9 L1585.2,1190.3 L1601.2,1190.7 L1613.6,1192.1 L1627.9,1191.2 L1645.6,1191.2 L1663.4,1192.4 L1681.2,1191.7 L1699,1191.7 L1707.9,1193.9 L1725.7,1194.8 L1743.5,1195.6 L1761.2,1197.1 L1787.9,1197.1 L1814.6,1197.1 L1832.4,1198.3 L1850,1197.8 L1867.8,1198.3 L1894.5,1198.8 L1917.6,1197.8 L1930,1193 L1947.8,1186.7 L1965.6,1182.3 L1983.4,1177.9 L1992.3,1174.3 L2001.2,1171.6 L2013.6,1172.2 L2027.9,1169 L2036.7,1167.2 L2054.5,1166.8 L2081.2,1165.4 L2099,1166.3 L2125.7,1166.8 L2143.5,1165.4 L2170.1,1164.5 L2196.8,1163.3 L2213.9,1162.7 L2214,1162.7"/>
</g>
</g>
<g fill="none" stroke-linecap="round" stroke-width="9">
<line x1="372.5" y1="76.4" x2="532.5" y2="76.4" stroke="#000"/>
<line x1="372.5" y1="336.5" x2="532.5" y2="336.5" stroke="#1870c8"/>
</g>
<g font-size="93">
<text font-size="92.4" transform="translate(548.6,105)">Gliadin</text>
<text transform="translate(549.4,365.1)">PT-gliadin</text>
</g>
<g font-size="100.5">
<text transform="translate(210.5,1231.3) scale(1,1.035)" text-anchor="end">0</text>
<text transform="translate(214.5,732) scale(1,1.035)" text-anchor="end">1</text>
<text transform="translate(210.5,233) scale(1,1.035)" text-anchor="end">2</text>
<text transform="translate(296,1350.8) scale(1,1.035)" text-anchor="middle">0</text>
<text transform="translate(718.6,1350.8) scale(1,1.035)" text-anchor="middle"><tspan dx="4">1</tspan><tspan dx="-4">0</tspan></text>
<text transform="translate(1145.5,1350.8) scale(1,1.035)" text-anchor="middle">20</text>
<text transform="translate(1570.5,1350.8) scale(1,1.035)" text-anchor="middle">30</text>
<text transform="translate(1995,1350.8) scale(1,1.035)" text-anchor="middle">40</text>
</g>
<g fill="#fff">
<rect x="164.5" y="723" width="18.75" height="10.5"/>
<rect x="192.4" y="723" width="18.6" height="10.5"/>
<rect x="675" y="1342" width="18.98" height="10.5"/>
<rect x="702.13" y="1342" width="18.9" height="10.5"/>
</g>
<g font-size="100">
<text transform="translate(1338.5,1420.8) scale(1,1.02)" text-anchor="middle">Time (minutes)</text>
<text transform="translate(120,685.5) rotate(-90) scale(1,1.03)" text-anchor="middle">Absorbance (220nm)</text>
</g>
</svg>
</body></html>
